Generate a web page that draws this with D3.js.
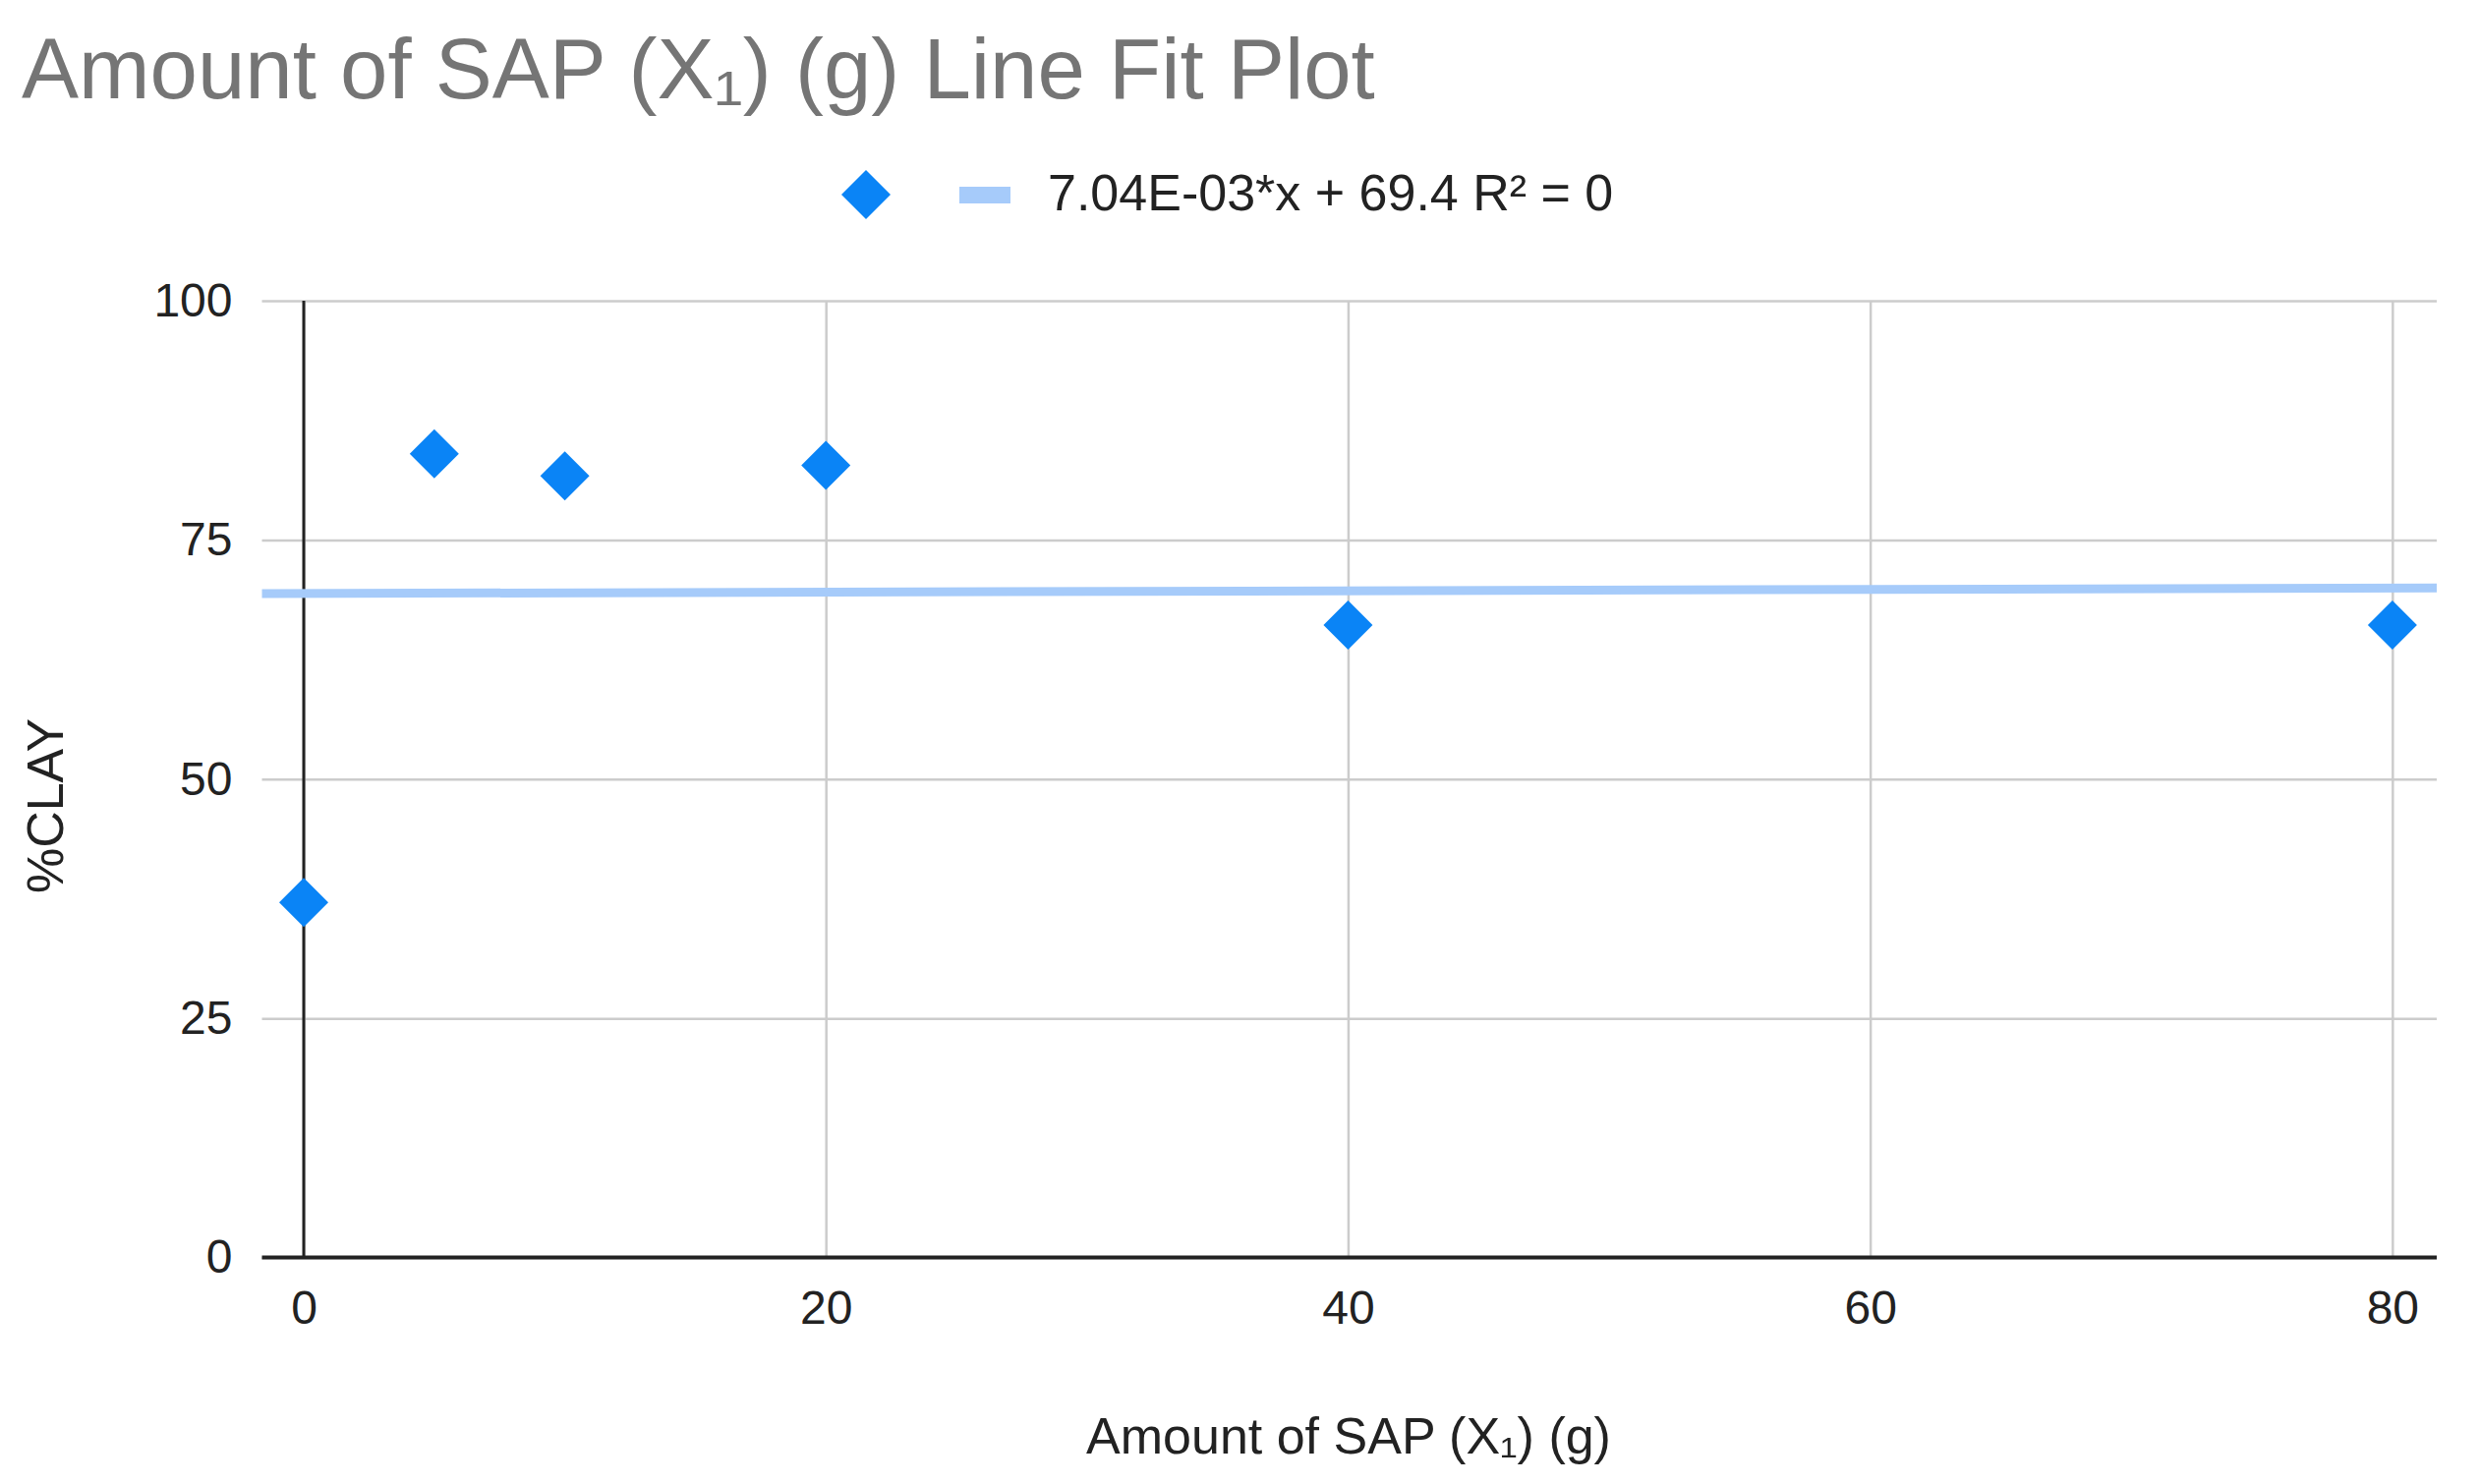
<!DOCTYPE html>
<meta charset="utf-8" />
<script src="https://d3js.org/d3.v7.min.js"></script>
<style>
	body { margin: 0; background: #fff; }
	text { font-family: 'Liberation Sans', Arial, sans-serif; }
</style>
<div id="chart"></div>
<script>
	// data
	var sapGrams = [0, 5, 10, 20, 40, 80];
	var clayPct = [37.1, 84.0, 81.7, 82.8, 66.1, 66.1];
	var xTicks = [0, 20, 40, 60, 80];
	var yTicks = [0, 25, 50, 75, 100];
	var fitSlope = 7.04e-3, fitIntercept = 69.4;
	var fitLabel = '7.04E-03*x + 69.4 R\u00b2 = 0';

	var width = 2522, height = 1510;
	var plotLeft = 266.5, plotRight = 2479, plotTop = 306, plotBottom = 1279.5;

	var svg = d3.select('#chart').append('svg')
		.attr('width', width)
		.attr('height', height);

	var x = d3.scaleLinear().domain([-1.6, 81.7]).range([plotLeft, plotRight]);
	var y = d3.scaleLinear().domain([0, 100]).range([plotBottom, plotTop]);

	// title
	svg.append('text')
		.attr('x', 22).attr('y', 100)
		.style('font-size', '87px')
		.style('fill', '#757575')
		.text('Amount of SAP (X\u2081) (g) Line Fit Plot');

	// legend
	svg.append('path')
		.attr('d', d3.symbol().type(d3.symbolSquare).size(1250)())
		.attr('transform', 'translate(881,198) rotate(45)')
		.style('fill', '#0a84f6');
	svg.append('rect')
		.attr('x', 976).attr('y', 190).attr('width', 52).attr('height', 17)
		.style('fill', '#a6cbfa');
	svg.append('text')
		.attr('x', 1066).attr('y', 214)
		.style('font-size', '52px')
		.style('fill', '#222')
		.text(fitLabel);

	// y axis with gridlines
	var yAxis = svg.append('g')
		.attr('transform', 'translate(' + plotLeft + ',0)')
		.call(d3.axisLeft(y).tickValues(yTicks).tickSize(-(plotRight - plotLeft)).tickPadding(30));
	yAxis.select('.domain').remove();
	yAxis.selectAll('line').style('stroke', '#cccccc').style('stroke-width', 2.5);
	yAxis.selectAll('text').style('font-size', '48px').style('fill', '#222')
		.style('font-family', "'Liberation Sans', Arial, sans-serif");

	// x axis with gridlines
	var xAxis = svg.append('g')
		.attr('transform', 'translate(0,' + plotBottom + ')')
		.call(d3.axisBottom(x).tickValues(xTicks).tickSize(-(plotBottom - plotTop)).tickPadding(33));
	xAxis.select('.domain').remove();
	xAxis.selectAll('line').style('stroke', '#cccccc').style('stroke-width', 2.5);
	xAxis.selectAll('text').style('font-size', '48px').style('fill', '#222')
		.style('font-family', "'Liberation Sans', Arial, sans-serif");

	// zero lines
	svg.append('line')
		.attr('x1', x(0)).attr('x2', x(0))
		.attr('y1', plotTop).attr('y2', plotBottom)
		.style('stroke', '#222').style('stroke-width', 3);
	svg.append('line')
		.attr('x1', plotLeft).attr('x2', plotRight)
		.attr('y1', y(0)).attr('y2', y(0))
		.style('stroke', '#222').style('stroke-width', 4);

	// axis titles
	svg.append('text')
		.attr('x', 1372).attr('y', 1479)
		.attr('text-anchor', 'middle')
		.style('font-size', '52px')
		.style('fill', '#222')
		.text('Amount of SAP (X\u2081) (g)');
	svg.append('text')
		.attr('text-anchor', 'middle')
		.attr('transform', 'translate(64,820) rotate(-90)')
		.style('font-size', '52px')
		.style('fill', '#222')
		.text('%CLAY');

	// trendline
	var xd = x.domain();
	svg.append('line')
		.attr('x1', x(xd[0])).attr('y1', y(fitSlope * xd[0] + fitIntercept))
		.attr('x2', x(xd[1])).attr('y2', y(fitSlope * xd[1] + fitIntercept))
		.style('stroke', '#a6cbfa').style('stroke-width', 9);

	// points
	svg.append('g')
		.selectAll('path')
		.data(sapGrams)
		.enter()
		.append('path')
		.attr('d', d3.symbol().type(d3.symbolSquare).size(1250)())
		.attr('transform', function (d, i) {
			return 'translate(' + x(d) + ',' + y(clayPct[i]) + ') rotate(45)';
		})
		.style('fill', '#0a84f6');
</script>
